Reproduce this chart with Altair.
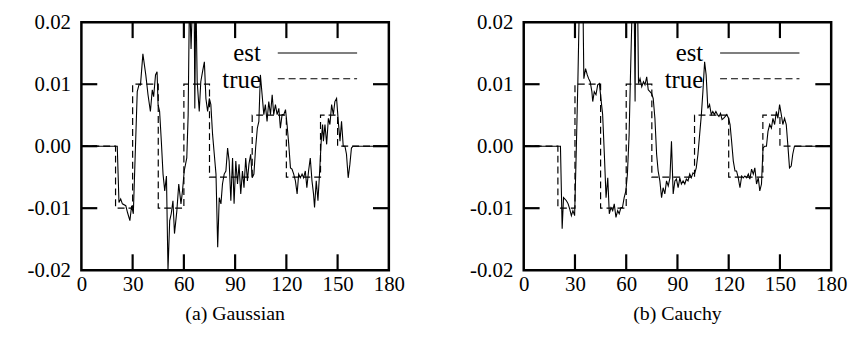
import altair as alt
import pandas as pd

FONT = "Liberation Serif"

X_TICKS = [0, 30, 60, 90, 120, 150, 180]
Y_TICKS = [-0.02, -0.01, 0.0, 0.01, 0.02]
X_INNER = [30, 60, 90, 120, 150]
Y_INNER = [-0.01, 0.0, 0.01]

LEGEND_LABELS = ["est", "true"]
CAPTIONS = ["(a) Gaussian", "(b) Cauchy"]

# true signal (step function: value holds until next breakpoint)
true_x = [0, 20, 30, 45, 60, 75, 100, 120, 140, 150, 180]
true_y = [0.0, -0.01, 0.01, -0.01, 0.01, -0.005, 0.005, -0.005, 0.005, 0.0, 0.0]

gauss_x = [0, 21, 22, 23, 24, 26, 27, 28.4, 29.4, 30.4, 32.7, 33.8, 34.6, 36, 37.7, 39, 40.4, 41.5, 42.3, 43.4,
           44.3, 44.9, 45.8, 46.8, 47.8, 48.8, 49.8, 50.7, 51.7, 52.6, 53.6, 54.5, 55.9, 57, 58.3, 59.2, 60.2,
           61.7, 62.5, 63.3, 64.2, 65.2, 66, 66.4, 67, 67.8, 69, 69.9, 70.9, 72, 72.9, 73.9, 74.9, 75.8, 76.8,
           77.8, 78.8, 79.8, 80.7, 81.7, 82.6, 83.6, 84.6, 85.6, 86.5, 87.5, 88.5, 89.4, 90.4, 91.4, 92.3, 93.3,
           94.3, 95.2, 96.2, 97.2, 98.1, 99.1, 100, 101, 102, 103, 103.9, 104.8, 105.8, 106.8, 107.7, 108.7,
           109.7, 110.7, 111.7, 112.6, 113.6, 114.6, 115.6, 116.5, 117.5, 118.5, 119.5, 120.4, 121.4, 122.4,
           123.3, 124.3, 125.3, 126.3, 127.2, 128.2, 129.2, 130.1, 131.1, 132, 133, 134, 135, 135.9, 136.5,
           137.5, 138.5, 139.4, 140.4, 141.2, 141.7, 142.6, 143.6, 144.6, 145.5, 146.5, 147.5, 148.4, 149.4,
           150.4, 151.4, 152.3, 153.3, 154.3, 155.2, 156.2, 157.2, 158.1, 159, 180]
gauss_y = [0, 0, -0.0091, -0.0085, -0.0093, -0.0096, -0.0107, -0.0120, -0.0096, -0.0109, 0.0088, 0.0100, 0.0099,
           0.0149, 0.0115, 0.0083, 0.0056, 0.0091, 0.0080, 0.0115, 0.0120, 0.0067, 0.0056, 0.0008, -0.0045,
           -0.0072, -0.0048, -0.0200, -0.0120, -0.0109, -0.0088, -0.0141, -0.0104, -0.0061, -0.0093, -0.0072,
           -0.0040, -0.0019, 0.0050, 0.025, 0.0157, 0.025, 0.025, 0.0061, 0.025, 0.0104, 0.0056, 0.0104, 0.0120,
           0.0136, 0.0077, 0.0056, 0.0077, 0.0067, 0.0019, -0.0013, -0.0045, -0.0163, -0.0083, -0.0093, -0.0061,
           -0.0045, -0.0040, -0.0003, -0.0024, -0.0088, -0.0019, -0.0093, -0.0024, -0.0061, -0.0029, -0.0077,
           -0.0040, -0.0067, -0.0019, -0.0056, -0.0029, -0.0013, -0.0051, -0.0045, -0.0003, 0.0029, 0.0040,
           0.0115, 0.0083, 0.0051, 0.0067, 0.0040, 0.0072, 0.0051, 0.0083, 0.0051, 0.0067, 0.0051, 0.0061, 0.0029,
           0.0051, 0.0051, 0.0059, 0.0035, 0.0003, -0.0035, -0.0037, -0.0045, -0.0056, -0.0077, -0.0045, -0.0051,
           -0.0045, -0.0051, -0.0040, -0.0067, -0.0040, -0.0019, -0.0056, -0.0077, -0.0099, -0.0056, -0.0088,
           -0.0045, 0.0008, 0.0035, 0.0008, 0.0035, 0.0003, 0.0045, 0.0035, 0.0067, 0.0051, 0.0072, 0.0077,
           0.0040, 0.0008, 0.0040, 0, 0, -0.0013, -0.0051, -0.0029, -0.0003, 0, 0]

cauchy_x = [0, 21.5, 22.5, 23.3, 24, 25, 26, 26.9, 27.9, 28.8, 29.8, 30.8, 31.7, 32.7, 33.7, 34.6, 35.2, 36.2,
            37.2, 38, 38.9, 39.9, 40.4, 41.3, 42.3, 43.3, 44.3, 45.2, 46.2, 47.2, 48.2, 49.2, 50.1, 51.1, 52.1,
            53, 54, 55, 55.9, 56.9, 57.8, 58.8, 59.8, 60.7, 61.7, 62.5, 63.7, 64.6, 65.2, 65.6, 66.6, 67.2, 68.1,
            69.1, 70.1, 71, 72, 72.9, 73.9, 74.9, 75.8, 76.8, 77.8, 78.7, 79.7, 80.7, 81.6, 82.6, 83.6, 84.6,
            85.6, 86.5, 87.5, 88.5, 89.4, 90.4, 91.4, 92.3, 93.3, 94.3, 95.2, 96.2, 97.2, 98.1, 99.1, 100, 101,
            102, 103, 104, 104.9, 105.9, 106.8, 107.8, 108.8, 109.8, 110.7, 111.6, 112.5, 113.4, 114.3, 115.2,
            116.1, 117, 118, 118.9, 119.9, 120.8, 121.7, 122.7, 123.7, 124.6, 125.6, 126.6, 127.6, 128.5, 129.5,
            130.5, 131.5, 132.4, 133.4, 134.4, 135.3, 136.3, 137.3, 138.2, 139.2, 140.1, 141.1, 142.1, 143, 144,
            145, 145.9, 146.9, 147.9, 148.8, 149.8, 150.8, 151.7, 152.7, 153.7, 154.6, 155.6, 156.6, 157.5,
            158.5, 180]
cauchy_y = [0, 0, -0.0133, -0.0083, -0.0085, -0.0088, -0.0093, -0.0101, -0.0112, -0.0104, -0.0112, -0.0003,
            0.0104, 0.025, 0.025, 0.025, 0.0109, 0.0125, 0.0115, 0.0109, 0.0104, 0.0088, 0.0072, 0.0088, 0.0083,
            0.0099, 0.0101, 0.0077, 0.0051, -0.0013, -0.0083, -0.0051, -0.0109, -0.0099, -0.0104, -0.0093,
            -0.0115, -0.0104, -0.0109, -0.0099, -0.0099, -0.0083, -0.0072, -0.0045, 0.0019, 0.0115, 0.025, 0.025,
            0.0072, 0.025, 0.025, 0.0101, 0.0109, 0.0096, 0.0104, 0.0099, 0.0112, 0.0091, 0.0088, 0.0085, 0.0077,
            0.0045, -0.0013, -0.0040, -0.0056, -0.0083, -0.0067, -0.0077, -0.0056, -0.0064, -0.0051, 0.0008,
            -0.0077, -0.0056, -0.0053, -0.0067, -0.0051, -0.0061, -0.0056, -0.0061, -0.0053, -0.0056, -0.0045,
            -0.0051, -0.0043, -0.0045, -0.0035, -0.0013, 0.0019, 0.0051, 0.0088, 0.0136, 0.0115, 0.0061, 0.0067,
            0.0051, 0.0056, 0.0051, 0.0056, 0.0051, 0.0048, 0.0053, 0.0043, 0.0045, 0.0048, 0.0051, 0.0045, 0.0035,
            0.0008, -0.0024, -0.0040, -0.0040, -0.0051, -0.0067, -0.0048, -0.0051, -0.0048, -0.0051, -0.0045,
            -0.0053, -0.0037, -0.0045, -0.0035, -0.0061, -0.0051, -0.0072, -0.0061, -0.0003, 0, 0, 0.0024, 0.0035,
            0.0029, 0.0045, 0.0035, 0.0056, 0.0045, 0.0067, 0.0051, 0.0035, 0.0045, 0.0035, 0.0003, -0.0035,
            -0.0032, -0.0013, 0, 0]

W, H = 310, 250
TICK_LEN = 16

Y_LABEL_EXPR = "datum.value < 0 ? '-' + format(-datum.value, '.2f') : format(datum.value, '.2f')"


def panel(est_x, est_y, caption):
    x_scale = alt.Scale(domain=[0, 180], nice=False, zero=False)
    y_scale = alt.Scale(domain=[-0.02, 0.02], nice=False, zero=False)
    true_df = pd.DataFrame({"x": true_x, "y": true_y})
    est_df = pd.DataFrame({"x": est_x, "y": est_y})

    true_line = alt.Chart(true_df).mark_line(
        interpolate="step-after", color="black", strokeWidth=1.2, strokeDash=[7, 4], clip=True
    ).encode(
        x=alt.X("x:Q", scale=x_scale,
                axis=alt.Axis(values=X_TICKS, title=None, ticks=False, domain=False, grid=False,
                              labelPadding=3, labelFlush=False, labelOverlap=False,
                              labelFont=FONT, labelFontSize=21, labelColor="black")),
        y=alt.Y("y:Q", scale=y_scale,
                axis=alt.Axis(values=Y_TICKS, title=None, ticks=False, domain=False, grid=False,
                              labelPadding=11, labelExpr=Y_LABEL_EXPR, labelFlush=False,
                              labelOverlap=False, labelFont=FONT, labelFontSize=21,
                              labelColor="black")),
    )
    est_line = alt.Chart(est_df).mark_line(color="black", strokeWidth=1.1, clip=True).encode(
        x="x:Q", y="y:Q"
    )
    xt_df = pd.DataFrame({"x": X_INNER})
    yt_df = pd.DataFrame({"y": Y_INNER})
    rs = dict(color="black", strokeWidth=2.2)
    xt_top = alt.Chart(xt_df).mark_rule(**rs).encode(
        x="x:Q", y=alt.value(0), y2=alt.value(TICK_LEN))
    xt_bot = alt.Chart(xt_df).mark_rule(**rs).encode(
        x="x:Q", y=alt.value(H - TICK_LEN), y2=alt.value(H))
    yt_left = alt.Chart(yt_df).mark_rule(**rs).encode(
        y="y:Q", x=alt.value(0), x2=alt.value(TICK_LEN))
    yt_right = alt.Chart(yt_df).mark_rule(**rs).encode(
        y="y:Q", x=alt.value(W - TICK_LEN), x2=alt.value(W))

    est_lab = alt.Chart(pd.DataFrame({"t": [LEGEND_LABELS[0]]})).mark_text(
        align="right", baseline="alphabetic", font=FONT, fontSize=25, color="black"
    ).encode(text="t:N", x=alt.value(181), y=alt.value(39))
    true_lab = alt.Chart(pd.DataFrame({"t": [LEGEND_LABELS[1]]})).mark_text(
        align="right", baseline="alphabetic", font=FONT, fontSize=25, color="black"
    ).encode(text="t:N", x=alt.value(181), y=alt.value(66))
    est_key = alt.Chart(pd.DataFrame({"t": [LEGEND_LABELS[0]]})).mark_rule(
        color="black", strokeWidth=1.1
    ).encode(x=alt.value(198), x2=alt.value(278), y=alt.value(31))
    true_key = alt.Chart(pd.DataFrame({"t": [LEGEND_LABELS[1]]})).mark_rule(
        color="black", strokeWidth=1.1, strokeDash=[7, 4]
    ).encode(x=alt.value(198), x2=alt.value(278), y=alt.value(57))

    return alt.layer(
        true_line, est_line, xt_top, xt_bot, yt_left, yt_right,
        est_lab, true_lab, est_key, true_key
    ).properties(
        width=W, height=H,
        title=alt.TitleParams(caption, orient="bottom", font=FONT, fontSize=20,
                              fontWeight="normal", color="black", offset=10),
    )


left = panel(gauss_x, gauss_y, CAPTIONS[0])
right = panel(cauchy_x, cauchy_y, CAPTIONS[1])

chart = alt.hconcat(left, right, spacing=136, bounds="flush").properties(
    padding={"left": 18, "top": 0, "right": 5, "bottom": 5},
    background="white",
).configure_view(
    stroke="black", strokeWidth=2.5
)

chart.save("out.html", embed_options={"renderer": "svg", "actions": False})
